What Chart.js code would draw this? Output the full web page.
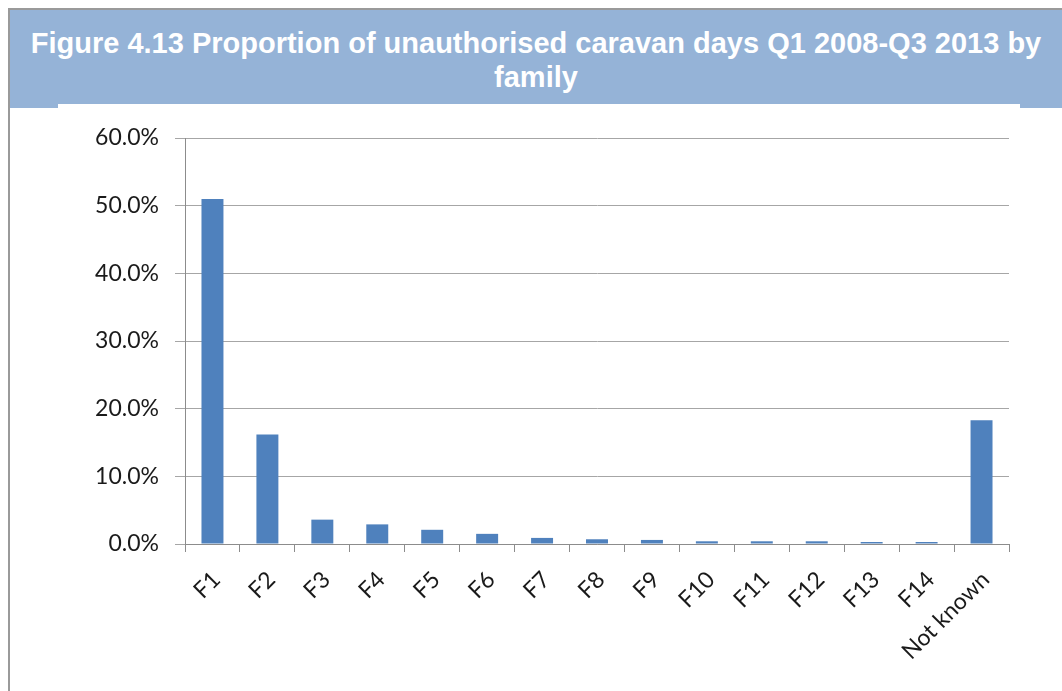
<!DOCTYPE html>
<html>
<head>
<meta charset="utf-8">
<script src="https://cdn.jsdelivr.net/npm/chart.js@4/dist/chart.umd.min.js"></script>
<style>
  html, body { margin: 0; padding: 0; background: #ffffff; width: 1062px; height: 691px; overflow: hidden; }
  #frame { position: absolute; left: 8px; top: 8px; width: 1054px; height: 683px; border-left: 2px solid #9a9a9a; border-top: 2px solid #9a9a9a; box-sizing: border-box; }
  #header { position: absolute; left: 10px; top: 10px; width: 1052px; height: 98px; background: #95b3d7; }
  #title { position: absolute; left: 10px; top: 26px; width: 1052px; text-align: center; color: #ffffff; font-family: "Liberation Sans", Arial, sans-serif; font-weight: bold; font-size: 29px; line-height: 34px; white-space: nowrap; }
  #notch { position: absolute; left: 58px; top: 104px; width: 962px; height: 6px; background: #ffffff; }
  #wrap { position: absolute; left: 10px; top: 108px; width: 1052px; height: 583px; }
</style>
</head>
<body>
<div id="frame"></div>
<div id="header"></div>
<div id="notch"></div>
<div id="title">Figure 4.13 Proportion of unauthorised caravan days Q1 2008-Q3 2013 by<br>family</div>
<div id="wrap"><canvas id="c" width="1052" height="583"></canvas></div>
<script>
const categories = ["F1","F2","F3","F4","F5","F6","F7","F8","F9","F10","F11","F12","F13","F14","Not known"];
const proportions = [0.510, 0.162, 0.036, 0.029, 0.021, 0.015, 0.009, 0.007, 0.006, 0.004, 0.004, 0.004, 0.003, 0.003, 0.183];
const yTicks = [0, 0.1, 0.2, 0.3, 0.4, 0.5, 0.6];

const tickFont = { family: "Lato, 'Open Sans', sans-serif", size: 23 };
new Chart(document.getElementById('c'), {
  type: 'bar',
  data: {
    labels: categories,
    datasets: [{
      data: proportions,
      backgroundColor: '#4f81bd',
      borderWidth: 0,
      barPercentage: 0.4,
      categoryPercentage: 1.0
    }]
  },
  options: {
    responsive: false,
    animation: false,
    devicePixelRatio: 1,
    layout: { padding: { top: 30, right: 53, left: 0, bottom: 0 } },
    plugins: { legend: { display: false }, tooltip: { enabled: false }, title: { display: false } },
    scales: {
      x: {
        grid: { display: true, drawOnChartArea: false, drawTicks: true, tickLength: 8, offset: true, color: '#8c8c8c', lineWidth: 1 },
        border: { display: true, color: '#8c8c8c', width: 1 },
        ticks: { color: '#1a1a1a', font: tickFont, minRotation: 45, maxRotation: 45, autoSkip: false, padding: 14, labelOffset: 4 },
        afterFit: (s) => { s.height = 147; }
      },
      y: {
        min: 0, max: 0.6,
        afterBuildTicks: (s) => { s.ticks = yTicks.map(v => ({ value: v })); },
        grid: { color: '#a6a6a6', lineWidth: 1, tickLength: 10, drawTicks: true },
        border: { display: true, color: '#8c8c8c', width: 1 },
        ticks: { color: '#1a1a1a', font: tickFont, padding: 16, callback: (v) => (v * 100).toFixed(1) + '%' },
        afterFit: (s) => { s.width = 175; }
      }
    }
  }
});
</script>
</body>
</html>
